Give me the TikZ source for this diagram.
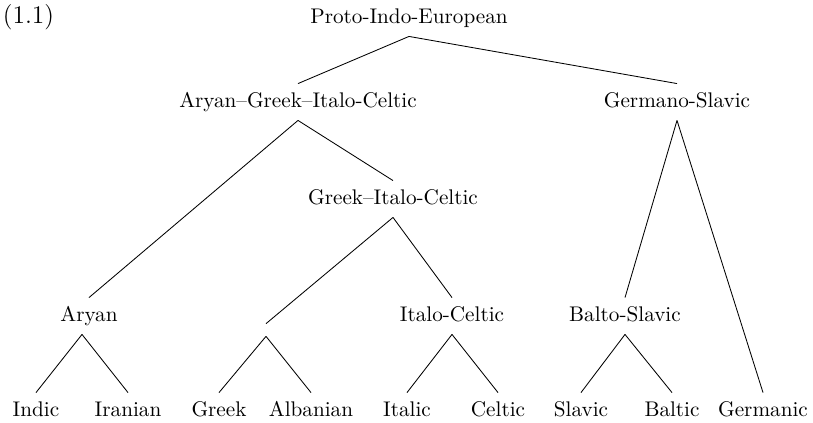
\documentclass[tikz,border=0pt]{standalone}
\usetikzlibrary{positioning}
\begin{document}
\begin{tikzpicture}[x=0.472pt,y=-0.472pt]
                    \tikzstyle{every node}+=[inner sep=4pt,text height=7pt,text depth=2pt]
                    \tikzstyle{gap}=[inner sep=2.8pt,text height=0pt,text depth=0pt]
                    \useasboundingbox (0,0) rectangle (813,422);
                    \node[font=\large] (num) at (28.5,18) {(1.1)};
                    \node (pie) at (409,18) {Proto-Indo-European};
                    \node (agic) at (298,102) {Aryan--Greek--Italo-Celtic};
                    \node (gersl) at (677,102) {Germano-Slavic};
                    \node (gic) at (393,199) {Greek--Italo-Celtic};
                    \node (aryan) at (89,316) {Aryan};
                    \node[gap] (grkalb) at (266,330) {};
                    \node (itcel) at (452,316) {Italo-Celtic};
                    \node (balsl) at (625,316) {Balto-Slavic};
                    \node (indic) at (36,411) {Indic};
                    \node (iran) at (128,411) {Iranian};
                    \node (greek) at (219,411) {Greek};
                    \node (alb) at (311,411) {Albanian};
                    \node (ital) at (407,411) {Italic};
                    \node (celt) at (498,411) {Celtic};
                    \node (slav) at (581,411) {Slavic};
                    \node (balt) at (672,411) {Baltic};
                    \node (germ) at (763,411) {Germanic};
                    % upper branches
                    \draw (pie.south) -- (agic.north);
                    \draw (pie.south) -- (gersl.north);
                    \draw (agic.south) -- (aryan.north);
                    \draw (agic.south) -- (gic.north);
                    \draw (gic.south) -- (grkalb.north);
                    \draw (gic.south) -- (itcel.north);
                    \draw (gersl.south) -- (balsl.north);
                    \draw (gersl.south) -- (germ.north);
                    % leaves
                    \draw ([xshift=-3.3pt]aryan.south) -- (indic.north);
                    \draw ([xshift=-3.3pt]aryan.south) -- (iran.north);
                    \draw (grkalb.south) -- (greek.north);
                    \draw (grkalb.south) -- (alb.north);
                    \draw (itcel.south) -- (ital.north);
                    \draw (itcel.south) -- (celt.north);
                    \draw (balsl.south) -- (slav.north);
                    \draw (balsl.south) -- (balt.north);
\end{tikzpicture}
\end{document}
